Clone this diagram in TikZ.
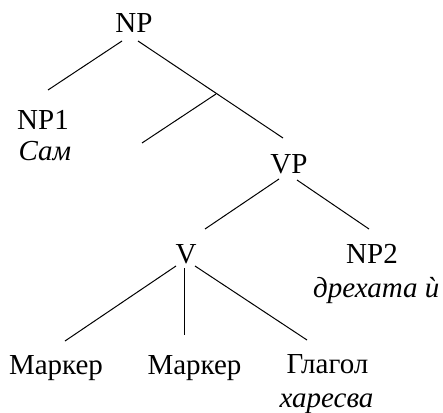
\documentclass[tikz,border=0pt]{standalone}
\usepackage{fontspec}
\setmainfont{Liberation Serif}
\begin{document}
\begin{tikzpicture}[x=1pt,y=-1pt,
  lbl/.style={anchor=base,inner sep=0pt,font=\fontsize{29}{33}\selectfont},
  word/.style={lbl,font=\fontsize{29}{33}\selectfont\itshape},
  edge/.style={line width=1pt,black}]
\useasboundingbox (0,0) rectangle (443,412);
% labels
\node[lbl] (np) at (134,33) {NP};
\node[lbl] (np1) at (43,129) {NP1};
\node[word] (sam) at (45,160) {Сам};
\node[lbl] (vp) at (289,173) {VP};
\node[lbl] (v) at (186,263) {V};
\node[lbl] (np2) at (372,263) {NP2};
\node[word,anchor=base west] (dreh) at (313,297) {дрехата ѝ};
\node[lbl] (m1) at (56,374) {Маркер};
\node[lbl] (m2) at (194.5,374) {Маркер};
\node[lbl] (gl) at (327.5,373) {Глагол};
\node[word] (har) at (326.5,407) {харесва};
% branch points
\coordinate (a1) at (122,41);  \coordinate (b1) at (48,90);
\coordinate (a2) at (138,41);  \coordinate (b2) at (283,138);
\coordinate (a3) at (216,94);  \coordinate (b3) at (142,143);
\coordinate (a4) at (279,179); \coordinate (b4) at (205,229);
\coordinate (a5) at (297,180); \coordinate (b5) at (369,229);
\coordinate (a6) at (176,266); \coordinate (b6) at (65,341);
\coordinate (a7) at (184,268); \coordinate (b7) at (184,335);
\coordinate (a8) at (195,266); \coordinate (b8) at (307,340);
\foreach \i in {1,...,8} {\draw[edge] (a\i) -- (b\i);}
\end{tikzpicture}
\end{document}
